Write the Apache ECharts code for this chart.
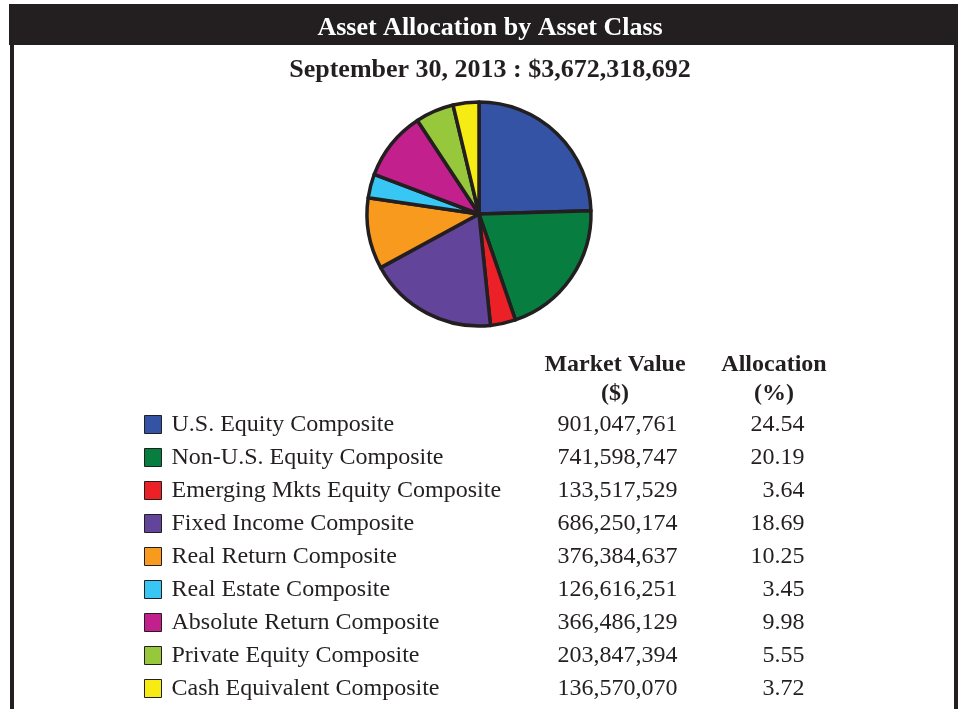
<!DOCTYPE html>
<html>
<head>
<meta charset="utf-8">
<script src="https://cdn.jsdelivr.net/npm/echarts@6/dist/echarts.min.js"></script>
<style>
  html, body { margin: 0; padding: 0; background: #fff; }
  #main { width: 965px; height: 709px; }
</style>
</head>
<body>
<div id="main"></div>
<script>
var names = [
  'U.S. Equity Composite',
  'Non-U.S. Equity Composite',
  'Emerging Mkts Equity Composite',
  'Fixed Income Composite',
  'Real Return Composite',
  'Real Estate Composite',
  'Absolute Return Composite',
  'Private Equity Composite',
  'Cash Equivalent Composite'
];
var marketValues = [901047761, 741598747, 133517529, 686250174, 376384637, 126616251, 366486129, 203847394, 136570070];
var allocations = [24.54, 20.19, 3.64, 18.69, 10.25, 3.45, 9.98, 5.55, 3.72];
var colors = ['#3553a4', '#077d3f', '#ec2027', '#62449a', '#f89a1e', '#38c6f4', '#c1208d', '#97c83c', '#f6eb13'];

var ink = '#231f20';
var serif = '"Liberation Serif", "DejaVu Serif", serif';

var myChart = echarts.init(document.getElementById('main'));

var pieData = names.map(function (n, i) {
  return { name: n, value: marketValues[i], itemStyle: { color: colors[i] } };
});

var option = {
  backgroundColor: '#fff',
  animation: false,
  title: [{
    text: 'Asset Allocation by Asset Class',
    left: 485,
    textAlign: 'center',
    top: 10,
    textStyle: { color: '#fff', fontSize: 26, fontWeight: 'bold', fontFamily: serif }
  }, {
    text: 'September 30, 2013 : $3,672,318,692',
    left: 485,
    textAlign: 'center',
    top: 52,
    textStyle: { color: ink, fontSize: 26, fontWeight: 'bold', fontFamily: serif }
  }],
  graphic: [
    { type: 'rect', shape: { x: 9, y: 4, width: 949, height: 41 }, style: { fill: ink }, z: -1 },
    { type: 'rect', shape: { x: 10, y: 45, width: 4, height: 664 }, style: { fill: ink } },
    { type: 'rect', shape: { x: 954, y: 45, width: 4, height: 664 }, style: { fill: ink } },
    { type: 'text', x: 615, y: 350, style: { text: 'Market Value\n($)', align: 'center', verticalAlign: 'top', fill: ink, font: 'bold 24px ' + serif, lineHeight: 29 } },
    { type: 'text', x: 774, y: 350, style: { text: 'Allocation\n(%)', align: 'center', verticalAlign: 'top', fill: ink, font: 'bold 24px ' + serif, lineHeight: 29 } }
  ],
  legend: {
    orient: 'vertical',
    left: 144,
    top: 408,
    height: 300,
    padding: 0,
    itemWidth: 17,
    itemHeight: 18,
    itemGap: 0,
    itemTextGap: 5,
    icon: 'rect',
    selectedMode: false,
    itemStyle: { borderColor: ink, borderWidth: 1 },
    data: names,
    formatter: function (name) {
      var i = names.indexOf(name);
      return '{n|' + name + '}{v|' + marketValues[i].toLocaleString('en-US') + '}{p|' + allocations[i].toFixed(2) + '}';
    },
    textStyle: {
      color: ink,
      fontFamily: serif,
      fontSize: 24,
      lineHeight: 33,
      rich: {
        n: { width: 384, align: 'left', fontSize: 24, fontFamily: serif, color: ink, lineHeight: 33, padding: [0, 0, 0, 5] },
        v: { width: 122, align: 'right', fontSize: 24, fontFamily: serif, color: ink, lineHeight: 33 },
        p: { width: 127, align: 'right', fontSize: 24, fontFamily: serif, color: ink, lineHeight: 33 }
      }
    }
  },
  series: [{
    type: 'pie',
    center: [479, 214],
    radius: 112,
    startAngle: 90,
    clockwise: true,
    label: { show: false },
    labelLine: { show: false },
    emphasis: { disabled: true },
    itemStyle: { borderColor: ink, borderWidth: 3.5 },
    data: pieData
  }]
};

myChart.setOption(option);
</script>
</body>
</html>
